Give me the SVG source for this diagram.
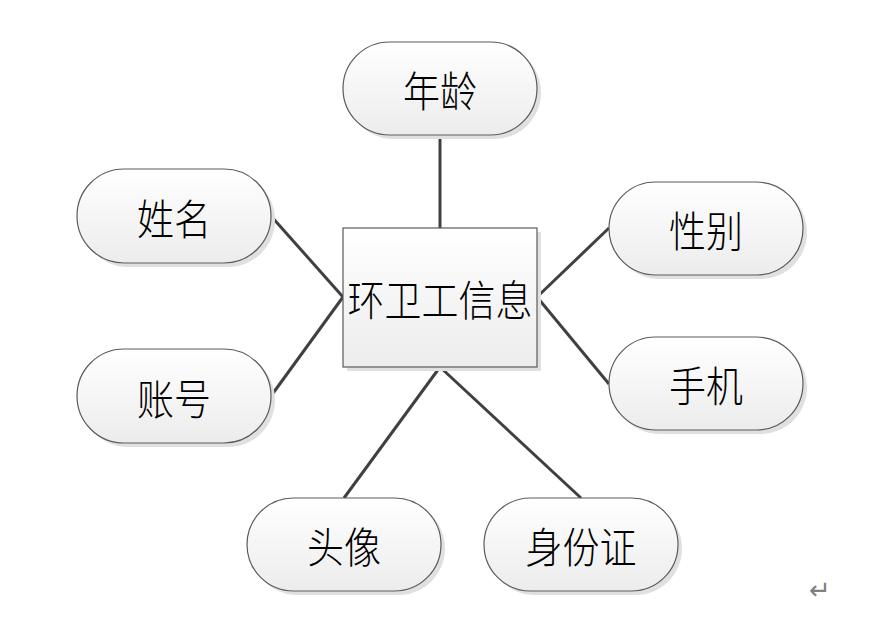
<svg xmlns="http://www.w3.org/2000/svg" width="872" height="620" viewBox="0 0 872 620">
<defs>
<linearGradient id="g" x1="0" y1="0" x2="0" y2="1">
<stop offset="0" stop-color="#ffffff"/>
<stop offset="1" stop-color="#ececec"/>
</linearGradient>
<style>
.sh{fill:#e0e0e0;}
.nd{fill:url(#g);stroke:#5a5a5a;stroke-width:1.2;}
.tx{font-family:"Noto Sans CJK SC",sans-serif;font-weight:300;font-size:37px;fill:#000;text-anchor:middle;dominant-baseline:central;}
.cn{stroke:#404040;stroke-width:3;fill:none;}
</style>
</defs>
<rect width="872" height="620" fill="#fff"/>
<g id="connectors">
<line class="cn" x1="440" y1="135" x2="440" y2="228"/>
<line class="cn" x1="271" y1="216" x2="343" y2="297"/>
<line class="cn" x1="271" y1="396" x2="343" y2="297"/>
<line class="cn" x1="609" y1="228" x2="537" y2="297"/>
<line class="cn" x1="609" y1="384" x2="537" y2="297"/>
<line class="cn" x1="344" y1="498" x2="440" y2="367"/>
<line class="cn" x1="581" y1="498" x2="440" y2="367"/>
</g>
<g id="center">
<rect class="sh" x="347" y="232" width="194" height="139"/>
<rect class="nd" x="343" y="228" width="194" height="139"/>
<text class="tx" x="440" y="297" transform="translate(440 297) scale(1 1.15) translate(-440 -297)">环卫工信息</text>
</g>
<g id="age">
<rect class="sh" x="347" y="46" width="194" height="93" rx="46.5"/>
<rect class="nd" x="343" y="42" width="194" height="93" rx="46.5"/>
<text class="tx" x="440" y="88" transform="translate(440 88) scale(1 1.15) translate(-440 -88)">年龄</text>
</g>
<g id="name">
<rect class="sh" x="81" y="173" width="194" height="94" rx="47"/>
<rect class="nd" x="77" y="169" width="194" height="94" rx="47"/>
<text class="tx" x="174" y="216" transform="translate(174 216) scale(1 1.15) translate(-174 -216)">姓名</text>
</g>
<g id="gender">
<rect class="sh" x="613" y="186" width="194" height="93" rx="46.5"/>
<rect class="nd" x="609" y="182" width="194" height="93" rx="46.5"/>
<text class="tx" x="706" y="228" transform="translate(706 228) scale(1 1.15) translate(-706 -228)">性别</text>
</g>
<g id="account">
<rect class="sh" x="81" y="353" width="194" height="94" rx="47"/>
<rect class="nd" x="77" y="349" width="194" height="94" rx="47"/>
<text class="tx" x="174" y="396" transform="translate(174 396) scale(1 1.15) translate(-174 -396)">账号</text>
</g>
<g id="phone">
<rect class="sh" x="613" y="341" width="194" height="93" rx="46.5"/>
<rect class="nd" x="609" y="337" width="194" height="93" rx="46.5"/>
<text class="tx" x="706" y="383" transform="translate(706 383) scale(1 1.15) translate(-706 -383)">手机</text>
</g>
<g id="avatar">
<rect class="sh" x="251" y="502" width="194" height="93" rx="46.5"/>
<rect class="nd" x="247" y="498" width="194" height="93" rx="46.5"/>
<text class="tx" x="344" y="544" transform="translate(344 544) scale(1 1.15) translate(-344 -544)">头像</text>
</g>
<g id="idcard">
<rect class="sh" x="488" y="502" width="194" height="93" rx="46.5"/>
<rect class="nd" x="484" y="498" width="194" height="93" rx="46.5"/>
<text class="tx" x="581" y="544" transform="translate(581 544) scale(1 1.15) translate(-581 -544)">身份证</text>
</g>
<text x="820" y="599" font-family="DejaVu Sans, sans-serif" font-size="26" fill="#808080" text-anchor="middle">↵</text>
</svg>
